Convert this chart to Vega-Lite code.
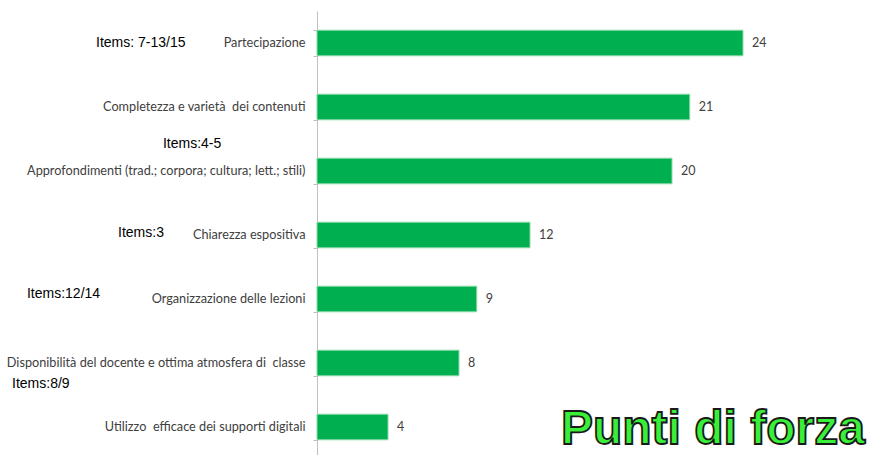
{
  "$schema": "https://vega.github.io/schema/vega-lite/v6.json",
  "autosize": {"type": "none"},
  "padding": {"left": 317, "top": 11, "right": 131, "bottom": 0},
  "width": 426,
  "height": 444,
  "background": "white",
  "config": {"view": {"stroke": null}},
  "datasets": {
    "bars": [
      {"categoria": "Partecipazione", "valore": 24},
      {"categoria": "Completezza e varietà\u00a0 dei contenuti", "valore": 21},
      {"categoria": "Approfondimenti (trad.; corpora; cultura; lett.; stili)", "valore": 20},
      {"categoria": "Chiarezza espositiva", "valore": 12},
      {"categoria": "Organizzazione delle lezioni", "valore": 9},
      {"categoria": "Disponibilità del docente e ottima atmosfera di\u00a0 classe", "valore": 8},
      {"categoria": "Utilizzo\u00a0 efficace dei supporti digitali", "valore": 4}
    ],
    "note": [
      {"testo": "Items: 7-13/15", "x": -12.45, "riga": 0.0},
      {"testo": "Items:4-5", "x": -8.68, "riga": 1.58},
      {"testo": "Items:3", "x": -11.21, "riga": 2.97},
      {"testo": "Items:12/14", "x": -16.34, "riga": 3.92},
      {"testo": "Items:8/9", "x": -17.18, "riga": 5.33}
    ],
    "titolo": [
      {"testo": "Punti di forza", "x": 30.87, "riga": 6.266}
    ]
  },
  "layer": [
    {
      "data": {"name": "bars"},
      "encoding": {
        "y": {
          "field": "categoria",
          "type": "nominal",
          "sort": null,
          "scale": {"paddingInner": 0.6, "paddingOuter": 0.26875, "align": 0.5581, "round": false},
          "axis": {
            "title": null,
            "domainColor": "#BFBFBF",
            "tickColor": "#BFBFBF",
            "tickSize": 4,
            "tickBand": "extent",
            "labelFont": "Lato",
            "labelFontSize": 12.7,
            "labelColor": "#404040",
            "labelPadding": 8,
            "labelLimit": 400,
            "grid": false
          }
        },
        "x": {
          "field": "valore",
          "type": "quantitative",
          "scale": {"domain": [0, 24], "nice": false, "zero": true},
          "axis": null
        }
      },
      "layer": [
        {"mark": {"type": "bar", "color": "#00B050", "stroke": "#8ED9A8", "strokeWidth": 1}},
        {
          "mark": {"type": "text", "align": "left", "baseline": "middle", "dx": 9, "font": "Lato", "fontSize": 12.5, "color": "#404040"},
          "encoding": {"text": {"field": "valore", "type": "quantitative"}}
        }
      ]
    },
    {
      "data": {"name": "note"},
      "mark": {"type": "text", "align": "left", "baseline": "middle", "font": "Liberation Sans", "fontSize": 14, "color": "#000000"},
      "encoding": {
        "x": {"field": "x", "type": "quantitative", "scale": {"domain": [0, 24], "nice": false}, "axis": null},
        "y": {"field": "riga", "type": "quantitative", "scale": {"domain": [-0.5, 6.4375], "reverse": true, "nice": false, "zero": false}, "axis": null},
        "text": {"field": "testo"}
      }
    },
    {
      "data": {"name": "titolo"},
      "mark": {"type": "text", "align": "right", "baseline": "alphabetic", "font": "Liberation Sans", "fontWeight": "bold", "fontSize": 48, "fill": "#38F038", "stroke": "#1A1A1A", "strokeWidth": 1.8},
      "encoding": {
        "x": {"field": "x", "type": "quantitative", "scale": {"domain": [0, 24], "nice": false}, "axis": null},
        "y": {"field": "riga", "type": "quantitative", "scale": {"domain": [-0.5, 6.4375], "reverse": true, "nice": false, "zero": false}, "axis": null},
        "text": {"field": "testo"}
      }
    }
  ],
  "resolve": {"scale": {"y": "independent"}}
}
